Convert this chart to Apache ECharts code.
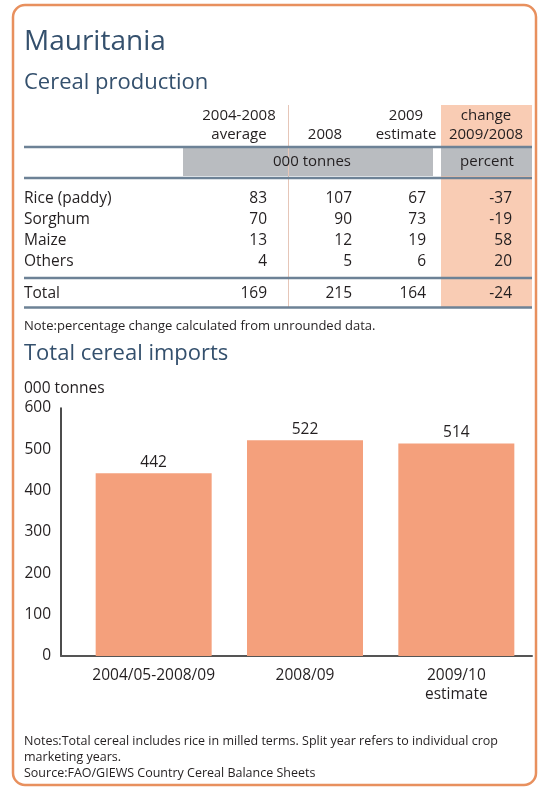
<!DOCTYPE html>
<html><head><meta charset="utf-8">
<script src="https://cdn.jsdelivr.net/npm/echarts@6/dist/echarts.min.js"></script>
<style>html,body{margin:0;padding:0;background:#fff}#c{width:539px;height:789px}</style>
</head><body><div id="c"></div>
<script>
// ---- data ----
const countryTitle = 'Mauritania';
const prodTitle = 'Cereal production';
const prodHeaders = [['2004-2008', 'average'], ['', '2008'], ['2009', 'estimate'], ['change', '2009/2008']];
const prodUnits = ['000 tonnes', 'percent'];
const prodCrops = ['Rice (paddy)', 'Sorghum', 'Maize', 'Others'];
const prodAvg = [83, 70, 13, 4];
const prod2008 = [107, 90, 12, 5];
const prod2009 = [67, 73, 19, 6];
const prodChange = [-37, -19, 58, 20];
const totalLabel = 'Total';
const totalValues = [169, 215, 164, -24];
const prodNote = 'Note:percentage change calculated from unrounded data.';
const importsTitle = 'Total cereal imports';
const importsUnit = '000 tonnes';
const importCategories = ['2004/05-2008/09', '2008/09', '2009/10\nestimate'];
const importValues = [442, 522, 514];
const notes = [
  'Notes:Total cereal includes rice in milled terms. Split year refers to individual crop',
  'marketing years.',
  'Source:FAO/GIEWS Country Cereal Balance Sheets'
];

// ---- styling ----
const FONT = '"Open Sans", "Noto Sans", sans-serif';
const TXT = '#231f20';
const TITLE = '#34506d';
const PINK = '#f9ccb4';
const GRAY = '#b9bcc0';
const RULE = '#6d8296';
const BAR = '#f4a07c';
const TS = 15.5; // table font size
const HS = 15;   // header font size
const AS = 15.5; // axis font size

const g = [];
function txt(x, y, text, size, opts) {
  opts = opts || {};
  g.push({
    type: 'text', x: x, y: y, z: 10,
    style: {
      text: text, fill: opts.fill || TXT, fontSize: size, fontFamily: FONT,
      textAlign: opts.align || 'left', align: opts.align || 'left',
      textVerticalAlign: 'middle', verticalAlign: 'middle'
    }
  });
}
function rect(x, y, w, h, fill) {
  g.push({ type: 'rect', z: 1, shape: { x: x, y: y, width: w, height: h }, style: { fill: fill } });
}
function hline(x1, x2, y, w, c) {
  g.push({ type: 'line', z: 5, shape: { x1: x1, y1: y, x2: x2, y2: y }, style: { stroke: c, lineWidth: w } });
}

// frame
g.push({ type: 'rect', z: 20, shape: { x: 13, y: 5, width: 523, height: 780, r: 12 },
  style: { fill: 'none', stroke: '#e8905e', lineWidth: 2.5 } });

// titles
txt(24, 42, countryTitle, 28, { fill: TITLE });
txt(24, 83, prodTitle, 22, { fill: TITLE });

// table backgrounds
rect(441, 105, 91, 203, PINK);
rect(183, 148, 250, 28, GRAY);
rect(441, 148, 91, 28, GRAY);
g.push({ type: 'line', z: 2, shape: { x1: 288.5, y1: 105, x2: 288.5, y2: 308 }, style: { stroke: '#e6c6b8', lineWidth: 1 } });
hline(24, 532, 147, 2.5, RULE);
hline(24, 532, 178, 2.5, RULE);
hline(24, 532, 278, 2.5, RULE);
hline(24, 532, 307.5, 2.5, RULE);

// header
const headCenters = [239, 325, 406, 486];
prodHeaders.forEach(function (h, i) {
  if (h[0]) txt(headCenters[i], 116, h[0], HS, { align: 'center' });
  txt(headCenters[i], 135, h[1], HS, { align: 'center' });
});
txt(312, 162, prodUnits[0], HS, { align: 'center' });
txt(487, 162, prodUnits[1], HS, { align: 'center' });

// rows
const rowY = [199, 220, 241, 262];
const colRight = [267, 352, 426, 512];
prodCrops.forEach(function (c, i) {
  txt(24, rowY[i], c, TS);
  [prodAvg, prod2008, prod2009, prodChange].forEach(function (arr, j) {
    txt(colRight[j], rowY[i], String(arr[i]), TS, { align: 'right' });
  });
});
txt(24, 294, totalLabel, TS);
totalValues.forEach(function (v, j) { txt(colRight[j], 294, String(v), TS, { align: 'right' }); });
txt(24, 326, prodNote, 13);

// imports
txt(24, 354, importsTitle, 22, { fill: TITLE });
txt(24, 389, importsUnit, AS);

// notes
[741, 757, 773].forEach(function (y, i) { txt(24, y, notes[i], 12.5); });

const chart = echarts.init(document.getElementById('c'), null, { renderer: 'canvas' });
chart.setOption({
  animation: false,
  backgroundColor: '#fff',
  graphic: g,
  grid: [
    { left: 61, right: 7, top: 408, bottom: 133 },
    { left: 78, right: 7, top: 408, bottom: 133 }
  ],
  xAxis: [
    { gridIndex: 0, type: 'value', min: 0, max: 1, axisLabel: { show: false }, axisTick: { show: false },
      splitLine: { show: false }, axisLine: { show: true, lineStyle: { color: '#555', width: 2 } } },
    { gridIndex: 1, type: 'category', data: importCategories, axisLine: { show: false }, axisTick: { show: false },
      axisLabel: { color: TXT, fontSize: AS, fontFamily: FONT, margin: 10, lineHeight: 19, interval: 0 } }
  ],
  yAxis: [
    { gridIndex: 0, type: 'value', min: 0, max: 600, interval: 100,
      axisLine: { show: true, lineStyle: { color: '#111', width: 1.5 } }, axisTick: { show: false },
      splitLine: { show: false },
      axisLabel: { color: TXT, fontSize: AS, fontFamily: FONT, margin: 10 } },
    { gridIndex: 1, type: 'value', min: 0, max: 600, show: false }
  ],
  series: [{
    type: 'bar', xAxisIndex: 1, yAxisIndex: 1, data: importValues, barWidth: 116,
    itemStyle: { color: BAR },
    label: { show: true, position: 'top', distance: 3, color: TXT, fontSize: AS, fontFamily: FONT }
  }]
});
</script>
</body></html>
